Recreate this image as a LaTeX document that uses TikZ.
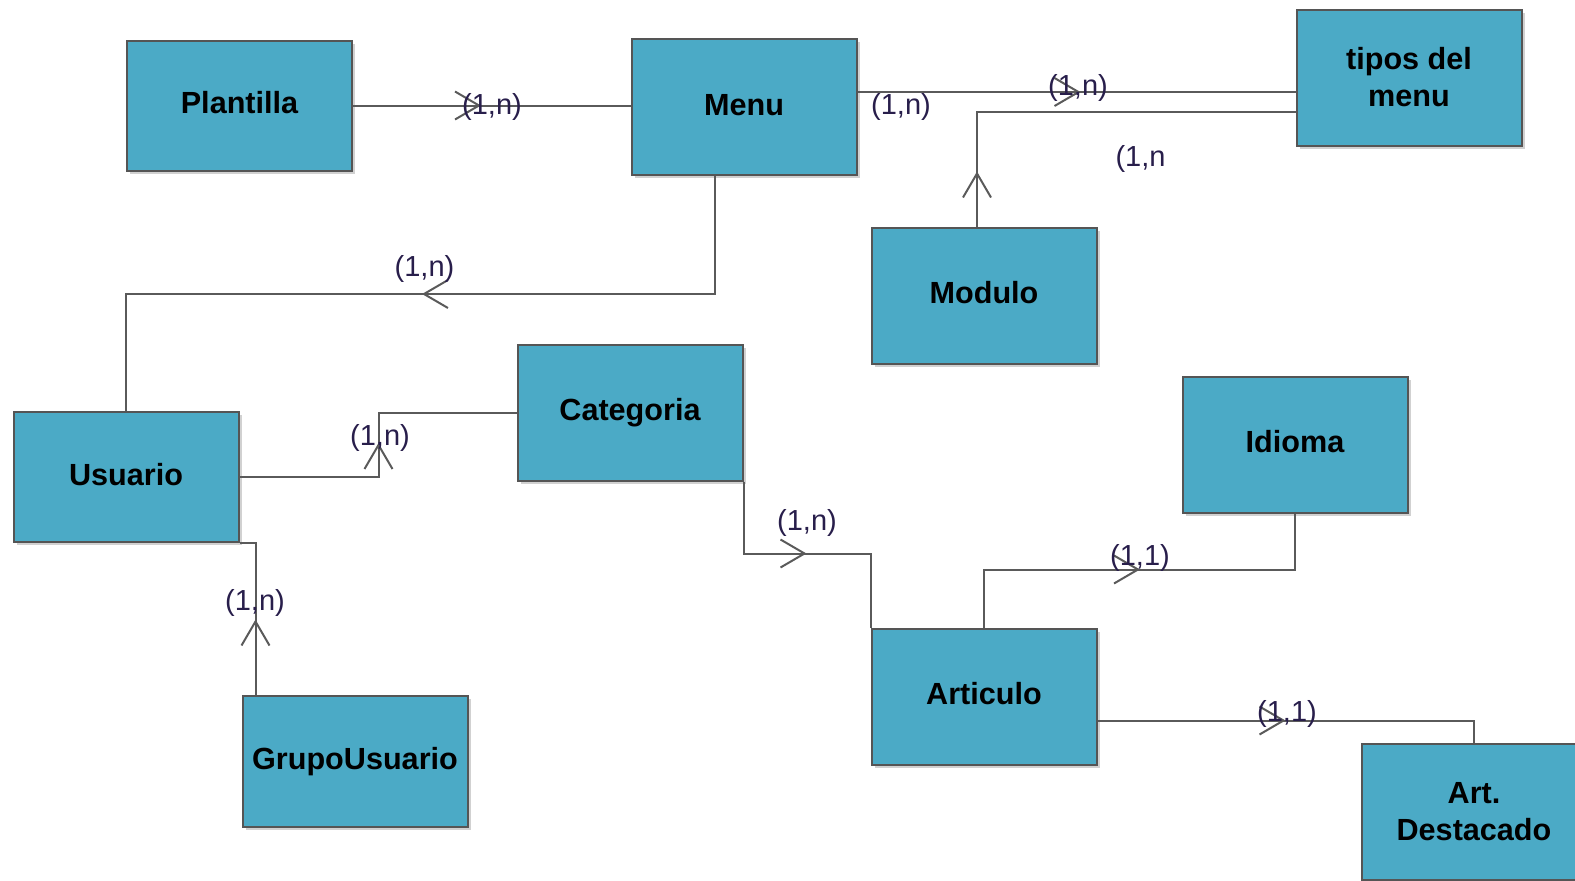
\documentclass[tikz,border=0pt]{standalone}
\usepackage{fontspec}
\setmainfont{Liberation Sans}
\usetikzlibrary{arrows.meta,decorations.markings,shadows}

\definecolor{entidadfill}{RGB}{75,170,198}
\definecolor{entidadborde}{RGB}{85,85,85}
\definecolor{linea}{RGB}{90,90,90}
\definecolor{cardtexto}{RGB}{40,30,75}

\tikzset{
  entidad/.style={draw=entidadborde, line width=1pt, fill=entidadfill,
    minimum width=112.5pt, minimum height=68pt, inner sep=0pt, align=center,
    font=\fontsize{15.3}{18.5}\selectfont\bfseries,
    drop shadow={shadow xshift=1.5pt, shadow yshift=-1.5pt, fill=black, opacity=.18}},
  unalinea/.style={entidad, text height=11.2pt, text depth=3pt},
  card/.style={font=\fontsize{14.5}{17}\selectfont, text=cardtexto, inner sep=0pt},
  rel/.style={draw=linea, line width=1pt},
  flecha/.style={postaction={decorate}, decoration={markings,
    mark=at position #1 with {\arrow{Straight Barb[length=12pt,width=14pt]}}}}
}

\begin{document}
\begin{tikzpicture}[x=0.5pt,y=-0.5pt]
                              \useasboundingbox (0,0) rectangle (1575,880);
                              \clip (0,0) rectangle (1575,880);

                              \node[unalinea, minimum height=65pt] (plantilla) at (239.5,105.5) {Plantilla};
                              \node[unalinea] (menu) at (744,107) {Menu};
                              \node[entidad] (tipos) at (1409,77.5) {tipos del\\menu};
                              \node[unalinea] (modulo) at (984,295.5) {Modulo};
                              \node[unalinea] (categoria) at (630,412.5) {Categoria};
                              \node[unalinea, minimum height=65pt] (usuario) at (126,477) {Usuario};
                              \node[unalinea] (idioma) at (1295,444.5) {Idioma};
                              \node[unalinea] (articulo) at (984,696.5) {Articulo};
                              \node[unalinea, minimum height=65.5pt] (grupo) at (355,761) {GrupoUsuario};
                              \node[entidad] (destacado) at (1474,811.5) {Art.\\Destacado};

                              \draw[rel, flecha=64pt] (plantilla.east) -- (plantilla.east -| menu.west);
                              \draw[rel, flecha=111.5pt] ([yshift=7.5pt]menu.east) -- ([yshift=7.5pt]menu.east -| tipos.west);
                              \draw[rel, flecha=27.5pt] ([xshift=-3.5pt]modulo.north) |- ([yshift=-17.25pt]tipos.west);
                              \draw[rel, flecha=205.5pt] ([xshift=-14.5pt]menu.south) -- ++(0,118) -| (usuario.north);
                              \draw[rel, flecha=86.5pt] (usuario.east) -- ++(139,0) |- (categoria.west);
                              \draw[rel, flecha=37.5pt] ([xshift=7pt]grupo.north west) |- (usuario.south east);
                              \draw[rel, flecha=67.5pt] (categoria.south east) -- ++(0,72) -| (articulo.north west);
                              \draw[rel, flecha=107pt] (articulo.north) -- ++(0,-58) -| (idioma.south);
                              \draw[rel, flecha=94pt] ([yshift=-12pt]articulo.east) -| (destacado.north);

                              \node[card] (c1) at (492,106.5) {(1,n)};
                              \node[card] (c2) at (901,106.5) {(1,n)};
                              \node[card] (c3) at (1078,87.5) {(1,n)};
                              \node[card] (c4) at (1140.5,158.5) {(1,n};
                              \node[card] (c5) at (424.5,268.5) {(1,n)};
                              \node[card] (c6) at (380,437.5) {(1,n)};
                              \node[card] (c7) at (255,602.5) {(1,n)};
                              \node[card] (c8) at (807,522.5) {(1,n)};
                              \node[card] (c9) at (1140,557.5) {(1,1)};
                              \node[card] (c10) at (1287,713.5) {(1,1)};
\end{tikzpicture}
\end{document}
